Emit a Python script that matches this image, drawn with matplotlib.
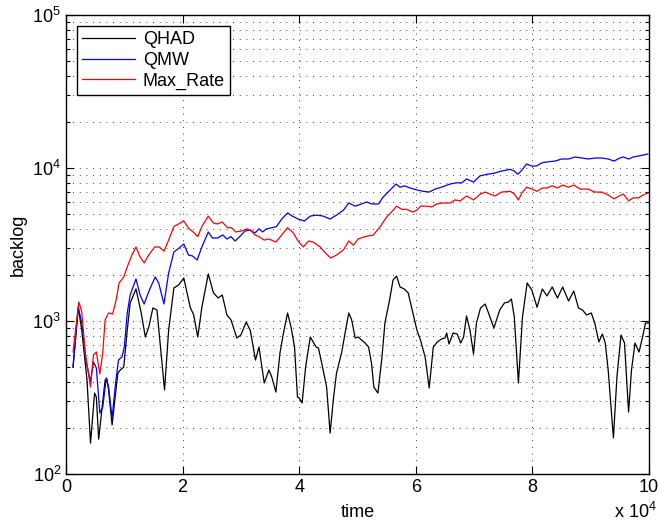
import numpy as np
import matplotlib
matplotlib.use("Agg")
import matplotlib.pyplot as plt
from matplotlib.ticker import FuncFormatter, LogLocator, NullFormatter

plt.rcParams['font.family'] = ['Liberation Sans', 'DejaVu Sans']
plt.rcParams['mathtext.fontset'] = 'custom'
plt.rcParams['mathtext.rm'] = 'Liberation Sans'
plt.rcParams['mathtext.default'] = 'regular'

# time in units of 1e4
qhad_t = [0.12, 0.21, 0.27, 0.36, 0.42, 0.49, 0.52, 0.56, 0.67, 0.70, 0.73, 0.79, 0.85, 0.89, 0.93, 0.99,
          1.05, 1.10, 1.20, 1.29, 1.36, 1.42, 1.49, 1.56, 1.62, 1.69, 1.76, 1.85, 1.93, 2.02, 2.13, 2.19,
          2.26, 2.33, 2.44, 2.53, 2.61, 2.68, 2.76, 2.83, 2.93, 3.00, 3.09, 3.16, 3.25, 3.31, 3.36, 3.40,
          3.48, 3.53, 3.60, 3.67, 3.73, 3.80, 3.86, 3.92, 3.97, 4.00, 4.05, 4.11, 4.19, 4.24, 4.29, 4.33,
          4.40, 4.47, 4.53, 4.59, 4.64, 4.73, 4.79, 4.85, 4.90, 4.96, 5.01, 5.07, 5.13, 5.19, 5.24, 5.28,
          5.35, 5.42, 5.47, 5.55, 5.61, 5.67, 5.73, 5.80, 5.87, 5.95, 6.02, 6.08, 6.16, 6.23, 6.30, 6.37,
          6.44, 6.50, 6.53, 6.57, 6.64, 6.71, 6.77, 6.82, 6.87, 6.93, 6.99, 7.04, 7.11, 7.19, 7.26, 7.34,
          7.44, 7.52, 7.59, 7.64, 7.69, 7.76, 7.83, 7.91, 7.99, 8.08, 8.17, 8.25, 8.34, 8.43, 8.52, 8.62,
          8.71, 8.79, 8.86, 8.93, 9.01, 9.07, 9.14, 9.20, 9.25, 9.30, 9.39, 9.45, 9.52, 9.58, 9.65, 9.70,
          9.76, 9.83, 9.89, 9.94, 10.0]
qhad = [500, 1230, 870, 411, 159, 338, 318, 169, 411, 420, 354, 209, 338, 457, 478, 500,
        870, 1312, 1620, 1128, 786, 913, 1216, 1180, 676, 354, 870, 1644, 1718, 1910, 1230, 1094,
        786, 1230, 2029, 1524, 1413, 1479, 1094, 1016, 774, 810, 985, 870, 556, 676, 500, 393,
        478, 430, 343, 618, 835, 1128, 913, 676, 318, 314, 291, 500, 786, 729, 676, 666,
        500, 370, 185, 318, 457, 627, 847, 1128, 1016, 774, 786, 751, 718, 676, 531, 370,
        338, 582, 970, 1372, 1854, 1968, 1668, 1620, 1524, 1128, 870, 751, 582, 365, 676, 729,
        763, 774, 835, 707, 835, 822, 718, 786, 1078, 870, 608, 970, 1216, 1291, 1094, 900,
        1180, 1312, 1330, 1393, 1062, 393, 1062, 1772, 1595, 1230, 1620, 1457, 1668, 1413, 1668, 1351,
        1570, 1216, 1180, 1094, 1128, 970, 729, 822, 718, 478, 172, 430, 810, 718, 254, 478,
        718, 627, 786, 970, 970]

qmw_t = [0.12, 0.21, 0.27, 0.34, 0.42, 0.47, 0.52, 0.58, 0.63, 0.69, 0.73, 0.79, 0.85, 0.90, 0.96, 1.00,
         1.05, 1.10, 1.20, 1.27, 1.34, 1.43, 1.53, 1.59, 1.68, 1.76, 1.85, 1.94, 2.02, 2.10, 2.17, 2.25,
         2.33, 2.44, 2.51, 2.60, 2.69, 2.76, 2.83, 2.90, 2.98, 3.07, 3.16, 3.24, 3.31, 3.37, 3.44, 3.53,
         3.61, 3.70, 3.80, 3.88, 3.98, 4.09, 4.19, 4.30, 4.41, 4.53, 4.64, 4.76, 4.85, 4.96, 5.07, 5.16,
         5.24, 5.36, 5.44, 5.56, 5.66, 5.73, 5.81, 5.90, 6.02, 6.13, 6.23, 6.33, 6.44, 6.59, 6.70, 6.79,
         6.87, 6.99, 7.10, 7.22, 7.33, 7.47, 7.62, 7.69, 7.75, 7.82, 7.90, 7.99, 8.07, 8.16, 8.27, 8.39,
         8.50, 8.62, 8.73, 8.85, 8.96, 9.07, 9.19, 9.30, 9.40, 9.50, 9.56, 9.65, 9.73, 9.82, 9.90, 9.98]
qmw = [500, 1230, 970, 556, 400, 540, 493, 250, 274, 424, 370, 232, 393, 556, 582, 676,
       1128, 1479, 1883, 1479, 1291, 1595, 1940, 1772, 1291, 2060, 2825, 3000, 3185, 2700, 2660, 2505,
       3045, 3818, 3487, 3487, 3650, 3435, 3560, 3334, 3560, 3873, 3940, 3760, 4000, 3818, 4000, 4070,
       4140, 4640, 5080, 4850, 4640, 4505, 4850, 4920, 4850, 4640, 4920, 5310, 5905, 5630, 5820, 6000,
       5820, 5820, 6460, 7180, 7860, 7490, 7650, 7400, 7180, 7040, 6960, 7280, 7490, 7860, 8000, 8000,
       8480, 8100, 8870, 9100, 9220, 9550, 9800, 9550, 9100, 9680, 10620, 10300, 10300, 10800, 10980, 11100,
       11450, 11450, 11800, 11620, 11450, 11620, 11620, 11450, 11100, 11620, 11800, 11450, 11800, 11980, 12150, 12350]

maxrate_t = [0.12, 0.22, 0.27, 0.33, 0.42, 0.47, 0.52, 0.58, 0.63, 0.67, 0.73, 0.80, 0.86, 0.91, 0.99, 1.05,
             1.13, 1.20, 1.27, 1.34, 1.42, 1.52, 1.60, 1.68, 1.76, 1.85, 1.93, 2.02, 2.11, 2.18, 2.26, 2.33,
             2.44, 2.53, 2.60, 2.68, 2.77, 2.84, 2.91, 3.01, 3.10, 3.18, 3.24, 3.31, 3.40, 3.48, 3.60, 3.70,
             3.80, 3.90, 3.98, 4.07, 4.16, 4.24, 4.36, 4.45, 4.54, 4.64, 4.76, 4.85, 4.93, 5.01, 5.13, 5.27,
             5.39, 5.50, 5.60, 5.67, 5.76, 5.84, 5.95, 6.02, 6.08, 6.20, 6.27, 6.36, 6.47, 6.59, 6.67, 6.76,
             6.87, 6.99, 7.11, 7.19, 7.27, 7.36, 7.47, 7.62, 7.69, 7.76, 7.82, 7.90, 7.99, 8.08, 8.17, 8.25,
             8.34, 8.43, 8.52, 8.62, 8.71, 8.82, 8.96, 9.07, 9.19, 9.30, 9.40, 9.49, 9.56, 9.65, 9.73, 9.82,
             9.90, 9.98]
maxrate = [627, 1331, 1146, 618, 370, 600, 627, 450, 618, 1016, 1128, 1111, 1372, 1772, 1940, 2254,
           2700, 3045, 2620, 2394, 2700, 3045, 3045, 2860, 3380, 4140, 4305, 4505, 4000, 3818, 3560, 4140,
           4850, 4365, 4305, 4435, 4070, 4070, 3818, 3873, 4000, 3873, 3650, 3560, 3380, 3435, 3280, 3650,
           4070, 3760, 3330, 3045, 3330, 3280, 3045, 2780, 2580, 2700, 2920, 3334, 3130, 3435, 3560, 3650,
           4140, 4785, 5240, 5630, 5370, 5370, 5150, 5310, 5630, 5630, 5560, 5820, 5905, 5905, 6180, 6100,
           6560, 6180, 6760, 6960, 6760, 6560, 6960, 7040, 6760, 6180, 6860, 7490, 7280, 7040, 7400, 7400,
           7650, 7400, 7730, 7490, 7730, 7280, 7280, 6960, 6960, 6660, 6285, 6560, 6760, 6100, 6380, 6380,
           6660, 6860]

fig = plt.figure(figsize=(6.59, 5.28), dpi=100)
ax = fig.add_axes([0.1002, 0.1023, 0.8846, 0.8693])

ax.plot(np.array(qhad_t) * 1e4, qhad, color='k', lw=0.9, label='QHAD')
ax.plot(np.array(qmw_t) * 1e4, qmw, color=(0, 0, 1), lw=0.9, label='QMW')
ax.plot(np.array(maxrate_t) * 1e4, maxrate, color=(1, 0, 0), lw=0.9, label='Max_Rate')

ax.set_yscale('log')
ax.set_xlim(0, 1e5)
ax.set_ylim(1e2, 1e5)
ax.set_xticks(np.arange(0, 100001, 20000))
ax.xaxis.set_major_formatter(FuncFormatter(lambda v, _: f"{v / 1e4:g}"))
ax.yaxis.set_major_locator(LogLocator(base=10, numticks=10))
ax.yaxis.set_minor_locator(LogLocator(base=10, subs=np.arange(2, 10), numticks=20))
ax.yaxis.set_minor_formatter(NullFormatter())

ax.tick_params(which='both', direction='in', top=True, right=True, labelsize=13, width=0.8)
ax.tick_params(which='major', length=6)
ax.tick_params(which='minor', length=3)
for s in ax.spines.values():
    s.set_linewidth(1.0)

# MATLAB-like sparse dotted grid
ax.grid(True, which='major', axis='both', color='k', linestyle=(0, (1, 7)), lw=0.6)
ax.grid(True, which='minor', axis='y', color='k', linestyle=(0, (1, 7)), lw=0.6)

ax.set_xlabel('time', fontsize=13, labelpad=6)
ax.set_ylabel('backlog', fontsize=13, labelpad=4)
fig.text(0.932, 0.012, r'x 10$^{4}$', fontsize=13, ha='left', va='bottom')

leg = ax.legend(loc='upper left', fontsize=13, fancybox=False, edgecolor='k', framealpha=1,
                handlelength=2.9, handletextpad=0.45, labelspacing=0.2, borderaxespad=0.6,
                borderpad=0.3)
leg.get_frame().set_linewidth(1.0)

fig.savefig('out.png', dpi=100)
